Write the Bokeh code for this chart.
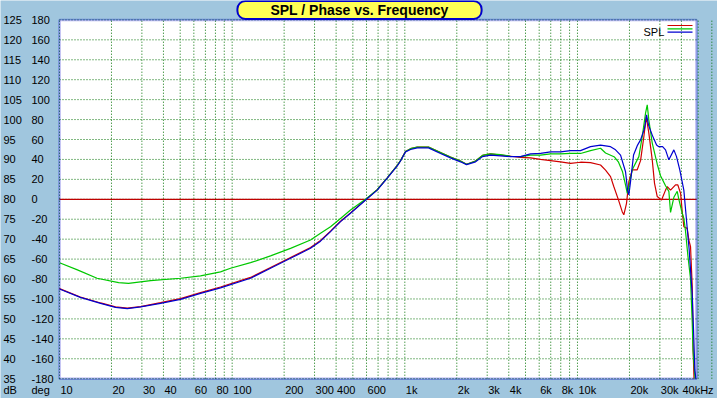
import math
from bokeh.plotting import figure
from bokeh.models import (Range1d, ColumnDataSource, LabelSet, Label, BoxAnnotation)
from bokeh.core.properties import value
from bokeh.embed import file_html
from bokeh.resources import INLINE

# ---------------- data ----------------
freq_blue = [10, 13.2, 17.3, 21.1, 24.7, 29.5, 38.5, 50.2, 65.6, 85.6, 127.8, 166.8, 217.8,
             284.3, 324.9, 371.2, 424.2, 484.7, 600, 692, 791, 904, 944, 1009, 1079, 1180,
             1372, 1610, 1839, 2102, 2278, 2568, 2818, 3136, 3584, 4095, 4679, 5346, 6109,
             6981, 7977, 9115, 10414, 11900, 13599, 15540, 16610, 17760, 18980, 19500,
             19840, 20290, 21120, 22280, 23190, 24460, 25120, 25800, 27100, 28710, 29590,
             31110, 32360, 33820, 36160, 37460, 39160, 41300, 42550, 43390, 44270, 45160,
             46200, 47010, 47830, 48470]
spl_blue = [57.5, 55.4, 53.9, 52.9, 52.6, 53.0, 53.9, 54.9, 56.4, 57.8, 60.2, 62.7, 65.2,
            67.7, 69.5, 71.9, 74.4, 76.5, 80.0, 82.3, 85.3, 88.4, 89.6, 91.9, 92.5, 92.9,
            92.9, 91.5, 90.4, 89.4, 88.7, 89.4, 90.7, 91.1, 90.9, 90.7, 90.7, 91.4, 91.5,
            91.9, 91.9, 92.2, 92.2, 93.2, 93.6, 93.2, 92.4, 91.1, 86.9, 82.3,
            81.1, 84.4, 91.1, 93.6, 94.9, 97.8, 101.2, 98.6, 96.1, 93.6, 93.2,
            93.2, 92.4, 89.9, 92.4, 90.7, 87.3, 82.3, 76.0, 71.8, 67.8, 62.3,
            56.0, 47.2, 37.2, 35.0]

freq_green = [10, 12.7, 16.5, 22.0, 25.1, 33.7, 50.2, 65.6, 85.6, 97.8, 127.8, 166.8, 217.8,
              284.3, 324.9, 371.2, 424.2, 484.7, 600, 692, 791, 904, 944, 1009, 1079, 1180,
              1372, 1610, 1839, 2102, 2278, 2568, 2818, 3136, 3584, 4095, 4679, 5346, 6109,
              6981, 7977, 9115, 10414, 11900, 13599, 14540, 16390, 17290, 18240, 18980,
              19420, 19840, 20760, 22670, 23710, 24790, 25350, 25900, 27100, 28970, 30270,
              32360, 33820, 34590, 36160, 37820, 38640, 40430, 41300, 42240, 43560, 45160,
              46200, 46700, 47960]
spl_green = [64.1, 62.3, 60.2, 59.1, 58.9, 59.6, 60.2, 60.8, 61.8, 62.7, 64.1, 65.8, 67.7,
             69.8, 71.5, 73.1, 75.2, 77.3, 80.2, 82.4, 85.4, 88.5, 89.7, 92.0, 92.7, 93.1,
             93.1, 91.7, 90.6, 89.6, 88.8, 89.6, 91.0, 91.4, 91.2, 90.8, 90.7, 91.1, 91.1,
             91.4, 91.4, 91.5, 91.5, 92.2, 92.8, 91.6, 90.6, 89.3, 86.9, 83.6,
             81.5, 83.2, 87.4, 90.7, 95.7, 101.6, 103.7, 99.9, 94.1, 88.8, 85.9,
             83.4, 82.0, 76.7, 80.5, 82.0, 80.0, 76.5, 75.2, 72.0, 66.0, 60.0,
             49.0, 42.0, 35.0]

freq_red = [10, 13.2, 17.3, 21.1, 24.7, 29.5, 38.5, 50.2, 65.6, 85.6, 127.8, 166.8, 217.8,
            284.3, 324.9, 371.2, 424.2, 484.7, 600, 692, 791, 904, 944, 1009, 1079, 1180,
            1372, 1610, 1839, 2102, 2278, 2568, 2818, 3136, 3584, 4095, 4679, 5346, 6109,
            6981, 7977, 9115, 10414, 11900, 13599, 14540, 15540, 16230, 17290, 18160,
            18550, 19230, 19840, 20760, 22180, 23190, 24230, 25020, 25900, 27100, 27940,
            28970, 30680, 32360, 33110, 34590, 36970, 38130, 39550, 40430, 41300, 43210,
            44150, 45160, 46200, 46700, 47300]
spl_red = [57.6, 55.5, 54.0, 53.0, 52.7, 53.1, 54.1, 55.1, 56.6, 58.0, 60.4, 62.9, 65.4,
           67.9, 69.7, 72.0, 74.5, 76.6, 80.1, 82.4, 85.4, 88.5, 89.7, 92.0, 92.7, 93.1,
           93.1, 91.7, 90.6, 89.6, 88.8, 89.6, 91.0, 91.4, 91.1, 90.8, 90.5, 90.4, 90.0,
           89.7, 89.4, 89.0, 89.3, 89.2, 88.6, 87.3, 85.7, 83.2, 79.8, 76.9,
           76.1, 79.0, 84.4, 87.4, 87.4, 89.7, 95.7, 100.7, 96.6, 89.9, 84.0,
           80.7, 79.8, 82.3, 83.2, 82.3, 83.6, 83.6, 81.5, 76.9, 73.1, 72.7,
           69.8, 68.1, 58.1, 43.0, 35.0]

phase_deg = 0  # phase trace (flat at 0 degrees)

x_tick_vals = [10, 20, 30, 40, 60, 80, 100, 200, 300, 400, 600, 1000, 2000, 3000, 4000,
               6000, 8000, 10000, 20000, 30000, 40000]
x_tick_text = ["10", "20", "30", "40", "60", "80", "100", "200", "300", "400", "600", "1k",
               "2k", "3k", "4k", "6k", "8k", "10k", "20k", "30k", "40kHz"]
db_ticks = [35, 40, 45, 50, 55, 60, 65, 70, 75, 80, 85, 90, 95, 100, 105, 110, 115, 120, 125]
deg_ticks = [-180, -160, -140, -120, -100, -80, -60, -40, -20, 0, 20, 40, 60, 80, 100,
             120, 140, 160, 180]
grid_freqs = [m * 10 ** e for e in range(1, 5) for m in range(1, 10)]

# ---------------- layout constants ----------------
W, H = 717, 398
X_MIN, X_MAX = 10, 48900          # plot-area frequency limits
Y_MIN, Y_MAX = 35, 125            # plot-area dB limits
D_MIN, D_MAX = -180, 180          # plot-area phase limits
PX_L, PX_R, PX_T, PX_B = 59, 696, 19.4, 378.2   # plot-area edges in canvas pixels

dec_px = (PX_R - PX_L) / math.log10(X_MAX / X_MIN)
x_lo = 10 ** (math.log10(X_MIN) - PX_L / dec_px)
x_hi = 10 ** (math.log10(X_MAX) + (W - PX_R) / dec_px)
ppd = (PX_B - PX_T) / (Y_MAX - Y_MIN)
y_lo = Y_MIN - (H - PX_B) / ppd
y_hi = Y_MAX + PX_T / ppd
ppdeg = (PX_B - PX_T) / (D_MAX - D_MIN)
d_lo = D_MIN - (H - PX_B) / ppdeg
d_hi = D_MAX + PX_T / ppdeg

BG = "#A0C6DE"
FONT = "Liberation Sans"
GRID = "#007000"
FRAME = "#0000CC"

p = figure(width=W, height=H, x_axis_type="log",
           x_range=Range1d(x_lo, x_hi), y_range=Range1d(y_lo, y_hi),
           x_axis_location=None, y_axis_location=None,
           output_backend="svg", toolbar_location=None, min_border=0)
p.border_fill_color = BG
p.background_fill_color = BG
p.outline_line_color = None
p.grid.visible = False
p.extra_y_ranges = {"deg": Range1d(d_lo, d_hi)}

# white plot area
p.add_layout(BoxAnnotation(left=X_MIN, right=X_MAX, bottom=Y_MIN, top=Y_MAX,
                           fill_color="white", fill_alpha=1, line_alpha=0, level="underlay"))

# dotted grid
p.segment(x0=grid_freqs, y0=Y_MIN, x1=grid_freqs, y1=Y_MAX,
          line_color=GRID, line_dash="1 2", line_width=1)
p.segment(x0=X_MIN, y0=db_ticks, x1=X_MAX, y1=db_ticks,
          line_color=GRID, line_dash="1 2", line_width=1)

# phase trace
p.segment(x0=X_MIN, y0=phase_deg, x1=X_MAX, y1=phase_deg, y_range_name="deg",
          line_color="#C00000", line_width=1.2)

# SPL curves
p.line(freq_red, spl_red, line_color="#D00000", line_width=1.2)
p.line(freq_green, spl_green, line_color="#00C800", line_width=1.2)
p.line(freq_blue, spl_blue, line_color="#0000D0", line_width=1.2)

# plot-area border
p.add_layout(BoxAnnotation(left=X_MIN, right=X_MAX, bottom=Y_MIN, top=Y_MAX,
                           fill_alpha=0, line_color=FRAME, line_width=2.5))

# tick labels
xsrc = ColumnDataSource(dict(x=x_tick_vals, t=x_tick_text))
p.add_layout(LabelSet(x="x", y=8.5, y_units="screen", text="t", source=xsrc,
                      text_align="left", text_baseline="middle", x_offset=1,
                      text_font=value(FONT), text_font_size="11px", text_color="black"))
dbsrc = ColumnDataSource(dict(y=db_ticks, t=[str(v) for v in db_ticks]))
p.add_layout(LabelSet(x=3, x_units="screen", y="y", text="t", source=dbsrc,
                      text_align="left", text_baseline="middle",
                      text_font=value(FONT), text_font_size="11px", text_color="black"))
degsrc = ColumnDataSource(dict(y=deg_ticks, t=[str(v) for v in deg_ticks]))
p.add_layout(LabelSet(x=31, x_units="screen", y="y", y_range_name="deg", text="t",
                      source=degsrc, text_align="left", text_baseline="middle",
                      text_font=value(FONT), text_font_size="11px", text_color="black"))
for xx, tt in ((3, "dB"), (31, "deg")):
    p.add_layout(Label(x=xx, y=8.5, x_units="screen", y_units="screen", text=tt,
                       text_align="left", text_baseline="middle",
                       text_font=FONT, text_font_size="11px", text_color="black"))

# title box
p.add_layout(Label(x=359, y=388.5, x_units="screen", y_units="screen",
                   text="SPL / Phase vs. Frequency", text_align="center",
                   text_baseline="middle", text_font=FONT, text_font_size="14px",
                   text_font_style="bold", text_color="black",
                   background_fill_color="#FFFF55", border_line_color=FRAME,
                   border_line_width=2, border_radius=8, level="overlay",
                   padding=dict(left=33, right=33, top=1, bottom=1)))

# legend
p.add_layout(Label(x=643, y=367, x_units="screen", y_units="screen", text="SPL",
                   text_align="left", text_baseline="middle", text_font=FONT,
                   text_font_size="11px", text_color="black"))
for col, yy in (("#D00000", 373), ("#00C800", 369.7), ("#0000D0", 366.3)):
    p.add_layout(BoxAnnotation(left=667, right=692, bottom=yy - 0.6, top=yy + 0.6,
                               left_units="screen", right_units="screen",
                               bottom_units="screen", top_units="screen",
                               fill_color=col, fill_alpha=1, line_alpha=0))

open("out.html", "w").write(file_html(p, INLINE, title="SPL / Phase vs. Frequency"))
